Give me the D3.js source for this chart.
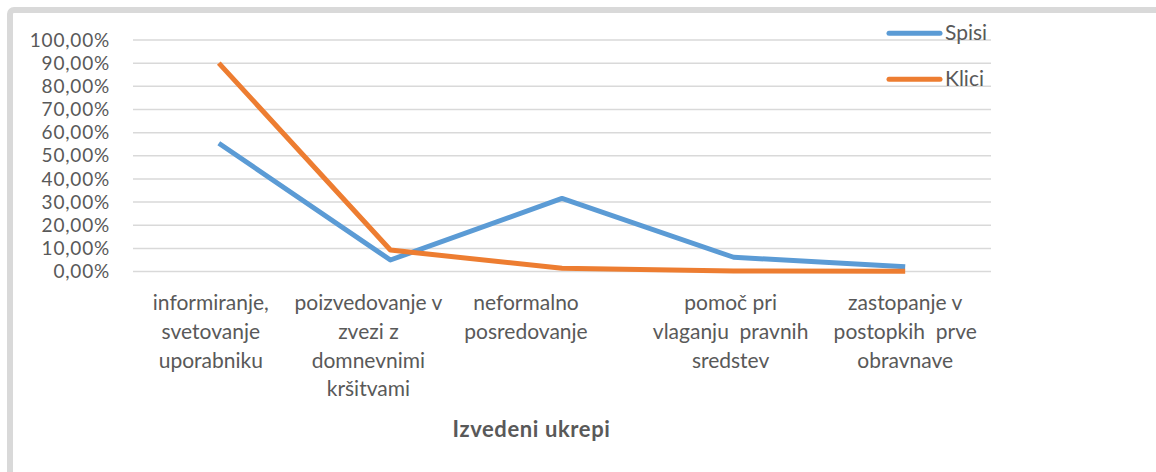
<!DOCTYPE html>
<html>
<head>
<meta charset="utf-8">
<script src="https://cdn.jsdelivr.net/npm/d3@7"></script>
<style>
  html, body { margin: 0; padding: 0; background: #fff; }
  svg { display: block; }
  text { font-family: Lato, "Open Sans", sans-serif; fill: #595959; }
</style>
</head>
<body>
<svg id="chart" width="1156" height="472"></svg>
<script>
// chart data
const categories = [
  ["informiranje,", "svetovanje", "uporabniku"],
  ["poizvedovanje v", "zvezi z", "domnevnimi", "kršitvami"],
  ["neformalno", "posredovanje"],
  ["pomoč pri", "vlaganju  pravnih", "sredstev"],
  ["zastopanje v", "postopkih  prve", "obravnave"]
];
const spisi = [0.554, 0.05, 0.316, 0.062, 0.021];
const klici = [0.90, 0.093, 0.014, 0.003, 0.001];
const seriesNames = ["Spisi", "Klici"];
const yTicks = [0, 0.1, 0.2, 0.3, 0.4, 0.5, 0.6, 0.7, 0.8, 0.9, 1.0];
const xTitle = "Izvedeni ukrepi";

// layout
const plot = { left: 133, right: 991, top: 40, bottom: 271.6 };
const colors = ["#5b9bd5", "#ed7d31"];
const labelNudge = [-8, -22, -36, -3, 0]; // labels sit a bit left of the points in the original

const svg = d3.select("#chart");

// light frame (only top + left edges visible)
svg.append("rect")
  .attr("x", 10).attr("y", 10)
  .attr("width", 1300).attr("height", 600)
  .attr("rx", 4)
  .attr("fill", "none")
  .attr("stroke", "#d9d9d9")
  .attr("stroke-width", 6);

const keys = categories.map((c, i) => i);
const x = d3.scaleBand().domain(keys).range([plot.left, plot.right]);
const cx = i => x(i) + x.bandwidth() / 2;
const y = d3.scaleLinear().domain([0, 1]).range([plot.bottom, plot.top]);

const locale = d3.formatLocale({ decimal: ",", thousands: ".", grouping: [3], currency: ["", "€"] });
const pct = locale.format(".2%");

// gridlines
svg.append("g")
  .selectAll("line")
  .data(yTicks)
  .join("line")
  .attr("x1", plot.left).attr("x2", plot.right)
  .attr("y1", d => y(d)).attr("y2", d => y(d))
  .attr("stroke", "#d9d9d9")
  .attr("stroke-width", 1.5);

// y axis labels
const yAxis = svg.append("g")
  .attr("transform", "translate(" + (plot.left - 23) + ",0)")
  .call(d3.axisLeft(y).tickValues(yTicks).tickFormat(pct).tickSize(0).tickPadding(0));
yAxis.select(".domain").remove();
yAxis.selectAll("text")
  .attr("font-family", "Lato, 'Open Sans', sans-serif")
  .attr("font-size", 19)
  .attr("letter-spacing", 0.8)
  .attr("fill", "#595959");

// category labels
const lineH = 28.8;
svg.append("g")
  .selectAll("text")
  .data(categories)
  .join("text")
  .attr("text-anchor", "middle")
  .attr("font-size", 21)
  .attr("xml:space", "preserve")
  .style("white-space", "pre")
  .each(function (lines, i) {
    d3.select(this).selectAll("tspan")
      .data(lines)
      .join("tspan")
      .attr("x", cx(i) + labelNudge[i])
      .attr("y", (d, j) => 310 + j * lineH)
      .text(d => d);
  });

// axis title
svg.append("text")
  .attr("x", 531.5)
  .attr("y", 437)
  .attr("text-anchor", "middle")
  .attr("font-size", 22)
  .attr("font-weight", "bold")
  .attr("letter-spacing", 0.6)
  .text(xTitle);

// series lines
const line = d3.line().x((d, i) => cx(i)).y(d => y(d));
[spisi, klici].forEach((vals, k) => {
  svg.append("path")
    .datum(vals)
    .attr("d", line)
    .attr("fill", "none")
    .attr("stroke", colors[k])
    .attr("stroke-width", 5)
    .attr("stroke-linejoin", "round");
});

// legend
const legend = svg.append("g")
  .selectAll("g")
  .data(seriesNames)
  .join("g")
  .attr("transform", (d, i) => "translate(889," + (33.3 + i * 46) + ")");
legend.append("line")
  .attr("x1", 0).attr("x2", 51)
  .attr("stroke", (d, i) => colors[i])
  .attr("stroke-width", 5)
  .attr("stroke-linecap", "round");
legend.append("text")
  .attr("x", 56)
  .attr("y", 7)
  .attr("font-size", 21)
  .text(d => d);
</script>
</body>
</html>
